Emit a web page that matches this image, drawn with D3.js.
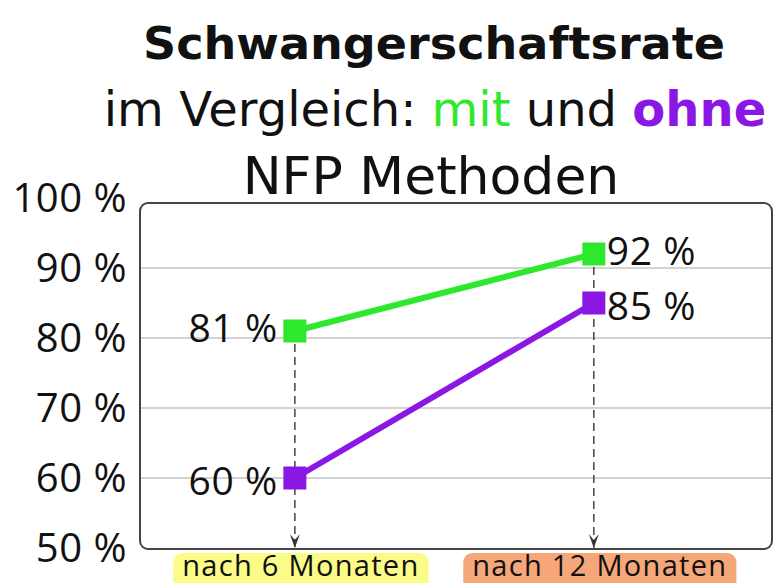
<!DOCTYPE html>
<html>
<head>
<meta charset="utf-8">
<script src="https://cdn.jsdelivr.net/npm/d3@7"></script>
<style>
  body { margin: 0; background: #fff; }
  svg { display: block; }
</style>
</head>
<body>
<svg id="svg1" width="774" height="583"></svg>
<script>
// data
var categories = ['nach 6 Monaten', 'nach 12 Monaten'];
var mitNFP = [81, 92];      // green, "mit"
var ohneNFP = [60, 85];     // purple, "ohne"
var yTicks = [50, 60, 70, 80, 90, 100];
var gridTicks = [60, 70, 80, 90];
var labelColors = ['#fbfb88', '#f6a77a'];

var green = '#2ee82e';
var purple = '#8a17e3';

var svg = d3.select('svg');

var plotLeft = 140, plotRight = 772, plotTop = 203, plotBottom = 549;

var x = d3.scalePoint()
    .domain(categories)
    .range([plotLeft, plotRight])
    .padding(0.557)
    .align(0.465);

var y = d3.scaleLinear()
    .domain([50, 100])
    .range([548, 198]);

// title
var title = svg.append('g').attr('text-anchor', 'middle').attr('fill', '#111');
title.append('text')
    .attr('x', 434).attr('y', 59)
    .style('font-family', 'DejaVu Sans')
    .style('font-weight', 'bold')
    .style('font-size', '45px')
    .attr('textLength', 582)
    .attr('lengthAdjust', 'spacingAndGlyphs')
    .text('Schwangerschaftsrate');
var t2 = title.append('text')
    .attr('x', 435).attr('y', 126)
    .style('font-family', 'DejaVu Sans')
    .style('font-size', '48px');
t2.append('tspan').text('im Vergleich: ');
t2.append('tspan').attr('fill', green).text('mit');
t2.append('tspan').text(' und ');
t2.append('tspan').attr('fill', purple).style('font-weight', 'bold').text('ohne');
title.append('text')
    .attr('x', 431).attr('y', 194)
    .style('font-family', 'DejaVu Sans')
    .style('font-size', '52px')
    .text('NFP Methoden');

// grid lines
svg.append('g').selectAll('line')
    .data(gridTicks)
    .enter().append('line')
    .attr('x1', plotLeft).attr('x2', plotRight)
    .attr('y1', function(d){ return y(d); })
    .attr('y2', function(d){ return y(d); })
    .attr('stroke', '#c4c4c4')
    .attr('stroke-width', 1.5);

// frame
svg.append('rect')
    .attr('x', plotLeft).attr('y', plotTop)
    .attr('width', plotRight - plotLeft).attr('height', plotBottom - plotTop)
    .attr('rx', 8)
    .attr('fill', 'none')
    .attr('stroke', '#444')
    .attr('stroke-width', 2);

// y tick labels
svg.append('g').selectAll('text')
    .data(yTicks)
    .enter().append('text')
    .attr('x', 127)
    .attr('y', function(d){ return y(d); })
    .attr('dy', '0.36em')
    .attr('text-anchor', 'end')
    .style('font-family', 'Open Sans')
    .style('font-size', '40px')
    .style('letter-spacing', '0.5px')
    .attr('fill', '#111')
    .text(function(d){ return d + ' %'; });

// arrow head, drawn pointing along +x so orient=auto turns it down the line
svg.append('defs').append('marker')
    .attr('id', 'arrow')
    .attr('viewBox', '0 0 14 10')
    .attr('refX', 14).attr('refY', 5)
    .attr('markerWidth', 14).attr('markerHeight', 10)
    .attr('markerUnits', 'userSpaceOnUse')
    .attr('orient', 'auto')
    .append('path')
    .attr('d', 'M0,0 L6,5 L0,10 L14,5 Z')
    .attr('fill', '#333');

// dashed drop lines from the top point of each month
var tops = categories.map(function(c, i){ return Math.max(mitNFP[i], ohneNFP[i]); });
svg.append('g').selectAll('line')
    .data(categories)
    .enter().append('line')
    .attr('x1', function(d){ return x(d); })
    .attr('x2', function(d){ return x(d); })
    .attr('y1', function(d, i){ return y(tops[i]); })
    .attr('y2', y(50))
    .attr('stroke', '#444')
    .attr('stroke-width', 1.5)
    .attr('stroke-dasharray', '8,5')
    .attr('marker-end', 'url(#arrow)');

var line = d3.line()
    .x(function(d, i){ return x(categories[i]); })
    .y(function(d){ return y(d); });

// shift = small vertical nudge of the value labels so they don't collide
function drawSeries(values, color, shift) {
    svg.append('path')
        .datum(values)
        .attr('d', line)
        .attr('fill', 'none')
        .attr('stroke', color)
        .attr('stroke-width', 6);
    svg.append('g').selectAll('rect')
        .data(values)
        .enter().append('rect')
        .attr('x', function(d, i){ return x(categories[i]) - 11.5; })
        .attr('y', function(d){ return y(d) - 11.5; })
        .attr('width', 23).attr('height', 23)
        .attr('fill', color);
    svg.append('g').selectAll('text')
        .data(values)
        .enter().append('text')
        .attr('x', function(d, i){ return i === 0 ? x(categories[i]) - 17 : x(categories[i]) + 13; })
        .attr('y', function(d){ return y(d) + shift; })
        .attr('dy', '0.36em')
        .attr('text-anchor', function(d, i){ return i === 0 ? 'end' : 'start'; })
        .style('font-family', 'Open Sans')
        .style('font-size', '39px')
        .style('letter-spacing', '0.6px')
        .attr('fill', '#111')
        .text(function(d){ return d + ' %'; });
}
drawSeries(ohneNFP, purple, 3);
drawSeries(mitNFP, green, -3);

// category labels with coloured boxes
var cat = svg.append('g').selectAll('g')
    .data(categories)
    .enter().append('g');
var catText = cat.append('text')
    .attr('x', function(d){ return x(d) + 6; })
    .attr('y', 576)
    .attr('text-anchor', 'middle')
    .style('font-family', 'Open Sans')
    .style('font-size', '29px')
    .style('letter-spacing', '1.3px')
    .attr('fill', '#111')
    .text(function(d){ return d; });
catText.each(function(d, i){
    var b = this.getBBox();
    d3.select(this.parentNode).insert('rect', 'text')
        .attr('x', b.x - 9).attr('y', 553)
        .attr('width', b.width + 18).attr('height', 40)
        .attr('rx', 9)
        .attr('fill', labelColors[i]);
});
</script>
</body>
</html>
